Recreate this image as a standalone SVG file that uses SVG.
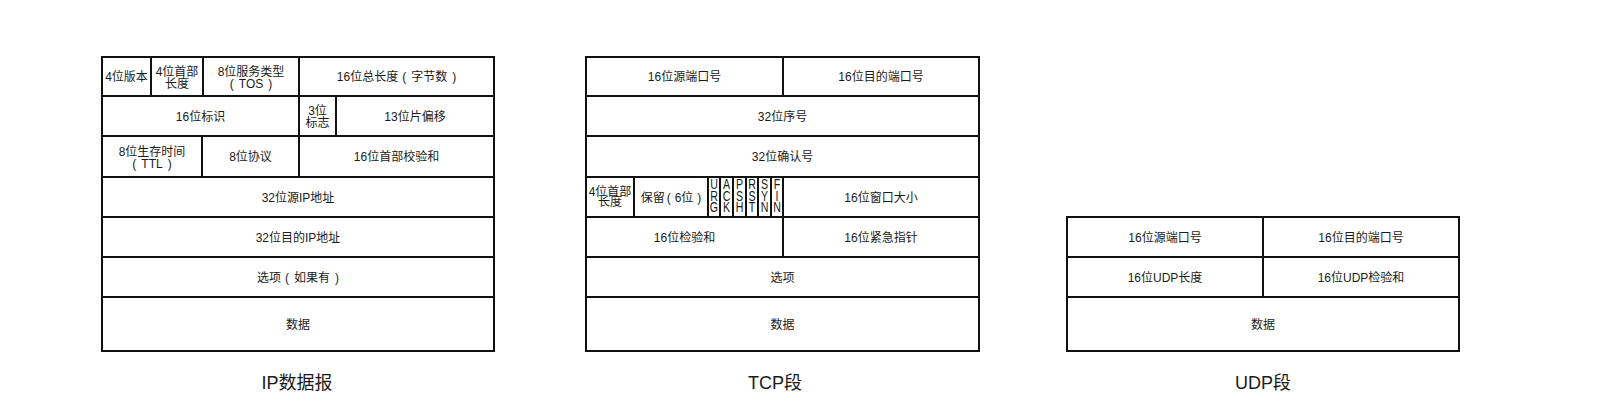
<svg xmlns="http://www.w3.org/2000/svg" width="1600" height="413" viewBox="0 0 1600 413">
<style>
.c{fill:#fff;stroke:#111;stroke-width:2}
.t{font-family:"Liberation Sans","Noto Sans CJK SC",sans-serif;font-size:12px;fill:#1a1a1a;text-anchor:middle}
.f{font-family:"Liberation Sans","Noto Sans CJK SC",sans-serif;font-size:14px;fill:#1a1a1a;text-anchor:middle}
.h{font-family:"Liberation Sans","Noto Sans CJK SC",sans-serif;font-size:18px;fill:#1a1a1a;text-anchor:middle}
</style>
<rect width="1600" height="413" fill="#fff"/>
<g id="ip">
  <g id="ip-ver"><rect class="c" x="102" y="57" width="49" height="39"/><text class="t" x="126.5" y="81">4位版本</text></g>
  <g id="ip-hlen"><rect class="c" x="151" y="57" width="52" height="39"/><text class="t" x="177" y="76">4位首部<tspan x="177" dy="12">长度</tspan></text></g>
  <g id="ip-tos"><rect class="c" x="203" y="57" width="96" height="39"/><text class="t" x="251" y="76">8位服务类型<tspan x="251" dy="12">(</tspan><tspan dx="5">TOS</tspan><tspan dx="5">)</tspan></text></g>
  <g id="ip-len"><rect class="c" x="299" y="57" width="195" height="39"/><text class="t" x="396.5" y="81">16位总长度<tspan dx="4">(</tspan><tspan dx="5">字节数</tspan><tspan dx="5">)</tspan></text></g>
  <g id="ip-id"><rect class="c" x="102" y="96" width="197" height="40"/><text class="t" x="200.5" y="120.5">16位标识</text></g>
  <g id="ip-flag"><rect class="c" x="299" y="96" width="37" height="40"/><text class="t" x="317.5" y="114.5">3位<tspan x="317.5" dy="12">标志</tspan></text></g>
  <g id="ip-frag"><rect class="c" x="336" y="96" width="158" height="40"/><text class="t" x="415" y="120.5">13位片偏移</text></g>
  <g id="ip-ttl"><rect class="c" x="102" y="136" width="100" height="41"/><text class="t" x="152" y="155.5">8位生存时间<tspan x="152" dy="12">(</tspan><tspan dx="5">TTL</tspan><tspan dx="5">)</tspan></text></g>
  <g id="ip-proto"><rect class="c" x="202" y="136" width="97" height="41"/><text class="t" x="250.5" y="161">8位协议</text></g>
  <g id="ip-cks"><rect class="c" x="299" y="136" width="195" height="41"/><text class="t" x="396.5" y="161">16位首部校验和</text></g>
  <g id="ip-src"><rect class="c" x="102" y="177" width="392" height="40"/><text class="t" x="298" y="201.5">32位源IP地址</text></g>
  <g id="ip-dst"><rect class="c" x="102" y="217" width="392" height="40"/><text class="t" x="298" y="241.5">32位目的IP地址</text></g>
  <g id="ip-opt"><rect class="c" x="102" y="257" width="392" height="40"/><text class="t" x="298" y="281.5">选项<tspan dx="4">(</tspan><tspan dx="5">如果有</tspan><tspan dx="5">)</tspan></text></g>
  <g id="ip-data"><rect class="c" x="102" y="297" width="392" height="54"/><text class="t" x="298" y="328.5">数据</text></g>
  <text class="h" x="297" y="389">IP数据报</text>
</g>
<g id="tcp">
  <g id="tcp-sport"><rect class="c" x="586" y="57" width="197" height="39"/><text class="t" x="684.5" y="81">16位源端口号</text></g>
  <g id="tcp-dport"><rect class="c" x="783" y="57" width="196" height="39"/><text class="t" x="881" y="81">16位目的端口号</text></g>
  <g id="tcp-seq"><rect class="c" x="586" y="96" width="393" height="40"/><text class="t" x="782.5" y="120.5">32位序号</text></g>
  <g id="tcp-ack"><rect class="c" x="586" y="136" width="393" height="41"/><text class="t" x="782.5" y="161">32位确认号</text></g>
  <g id="tcp-hlen"><rect class="c" x="586" y="177" width="48" height="40"/><text class="t" x="610" y="195.5">4位首部<tspan x="610" dy="10.5">长度</tspan></text></g>
  <g id="tcp-rsv"><rect class="c" x="634" y="177" width="74" height="40"/><text class="t" x="671" y="201.5">保留<tspan dx="2">(</tspan><tspan dx="4">6位</tspan><tspan dx="4">)</tspan></text></g>
  <g id="tcp-urg"><rect class="c" x="708" y="177" width="12" height="40"/><text class="f" transform="translate(714 0) scale(0.76 1)" x="0" y="189.5">U<tspan x="0" dy="11.5">R</tspan><tspan x="0" dy="11.5">G</tspan></text></g>
  <g id="tcp-ackf"><rect class="c" x="720" y="177" width="13" height="40"/><text class="f" transform="translate(726.5 0) scale(0.76 1)" x="0" y="189.5">A<tspan x="0" dy="11.5">C</tspan><tspan x="0" dy="11.5">K</tspan></text></g>
  <g id="tcp-psh"><rect class="c" x="733" y="177" width="13" height="40"/><text class="f" transform="translate(739.5 0) scale(0.76 1)" x="0" y="189.5">P<tspan x="0" dy="11.5">S</tspan><tspan x="0" dy="11.5">H</tspan></text></g>
  <g id="tcp-rst"><rect class="c" x="746" y="177" width="12" height="40"/><text class="f" transform="translate(752 0) scale(0.76 1)" x="0" y="189.5">R<tspan x="0" dy="11.5">S</tspan><tspan x="0" dy="11.5">T</tspan></text></g>
  <g id="tcp-syn"><rect class="c" x="758" y="177" width="13" height="40"/><text class="f" transform="translate(764.5 0) scale(0.76 1)" x="0" y="189.5">S<tspan x="0" dy="11.5">Y</tspan><tspan x="0" dy="11.5">N</tspan></text></g>
  <g id="tcp-fin"><rect class="c" x="771" y="177" width="12" height="40"/><text class="f" transform="translate(777 0) scale(0.76 1)" x="0" y="189.5">F<tspan x="0" dy="11.5">I</tspan><tspan x="0" dy="11.5">N</tspan></text></g>
  <g id="tcp-win"><rect class="c" x="783" y="177" width="196" height="40"/><text class="t" x="881" y="201.5">16位窗口大小</text></g>
  <g id="tcp-cks"><rect class="c" x="586" y="217" width="197" height="40"/><text class="t" x="684.5" y="241.5">16位检验和</text></g>
  <g id="tcp-urgp"><rect class="c" x="783" y="217" width="196" height="40"/><text class="t" x="881" y="241.5">16位紧急指针</text></g>
  <g id="tcp-opt"><rect class="c" x="586" y="257" width="393" height="40"/><text class="t" x="782.5" y="281.5">选项</text></g>
  <g id="tcp-data"><rect class="c" x="586" y="297" width="393" height="54"/><text class="t" x="782.5" y="328.5">数据</text></g>
  <text class="h" x="775" y="389">TCP段</text>
</g>
<g id="udp">
  <g id="udp-sport"><rect class="c" x="1067" y="217" width="196" height="40"/><text class="t" x="1165" y="241.5">16位源端口号</text></g>
  <g id="udp-dport"><rect class="c" x="1263" y="217" width="196" height="40"/><text class="t" x="1361" y="241.5">16位目的端口号</text></g>
  <g id="udp-len"><rect class="c" x="1067" y="257" width="196" height="40"/><text class="t" x="1165" y="281.5">16位UDP长度</text></g>
  <g id="udp-cks"><rect class="c" x="1263" y="257" width="196" height="40"/><text class="t" x="1361" y="281.5">16位UDP检验和</text></g>
  <g id="udp-data"><rect class="c" x="1067" y="297" width="392" height="54"/><text class="t" x="1263" y="328.5">数据</text></g>
  <text class="h" x="1263" y="389">UDP段</text>
</g>
<g id="connectors"></g>
</svg>
